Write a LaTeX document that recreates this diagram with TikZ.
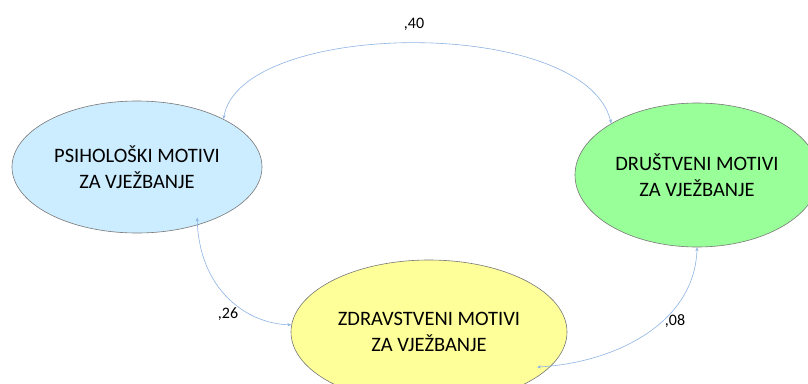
\documentclass[tikz,border=0pt]{standalone}
\usepackage{fontspec}
\setmainfont{Carlito}
\usetikzlibrary{shapes.geometric,arrows.meta,calc}
\definecolor{psiblue}{RGB}{204,236,255}
\definecolor{drugreen}{RGB}{153,255,153}
\definecolor{zdryellow}{RGB}{255,255,153}
\definecolor{edgegray}{RGB}{120,120,120}
\definecolor{linkblue}{RGB}{142,180,227}
\tikzset{
  motive/.style={ellipse, draw=edgegray, line width=0.6pt, inner sep=0pt,
    align=center, font=\fontsize{20.5}{26}\selectfont, text=black},
  link/.style={draw=linkblue, line width=0.6pt,
    {Stealth[length=4pt,width=3.2pt]}-{Stealth[length=4pt,width=3.2pt]}},
  coef/.style={font=\fontsize{16}{18}\selectfont, text=black, inner sep=0pt}
}
\begin{document}
\begin{tikzpicture}[x=1pt,y=-1pt]
\useasboundingbox (0,0) rectangle (808,383);
\clip (0,0) rectangle (808,383);
\fill[white] (0,0) rectangle (808,383);

\node[motive, fill=psiblue, minimum width=250pt, minimum height=132pt] (psi) at (137,167)
  {PSIHOLOŠKI MOTIVI\\ZA VJEŽBANJE};
\node[motive, fill=drugreen, minimum width=244pt, minimum height=144pt] (dru) at (697,175)
  {DRUŠTVENI MOTIVI\\ZA VJEŽBANJE};
\node[motive, fill=zdryellow, minimum width=276pt, minimum height=144pt] (zdr) at (429,332)
  {ZDRAVSTVENI MOTIVI\\ZA VJEŽBANJE};

\draw[link] (psi.29) .. controls +(17,-100) and +(-26,-108) .. (dru.149);
\draw[link] ($(psi.center)!0.9!(psi.-40)$) .. controls +(2,72) and +(-45,-1) .. (zdr.177);
\draw[link] (dru.south) .. controls +(-2,73) and +(83,-5) .. ($(zdr.center)!0.92!(zdr.-18)$);

\node[coef] (c40) at (414,24) {,40};
\node[coef] (c26) at (228,314) {,26};
\node[coef] (c08) at (675,321) {,08};
\end{tikzpicture}
\end{document}
